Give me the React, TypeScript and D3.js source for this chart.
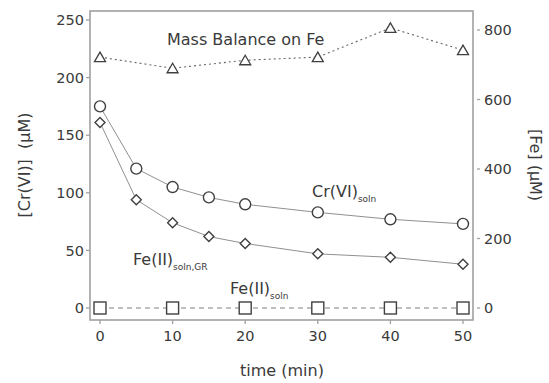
import React from 'react';
import * as d3 from 'd3';

// time points (min)
const crTimes = [0, 5, 10, 15, 20, 30, 40, 50];
const crValues = [175, 121, 105, 96, 90, 83, 77, 73];

const feGrTimes = [0, 5, 10, 15, 20, 30, 40, 50];
const feGrValues = [161, 94, 74, 62, 56, 47, 44, 38];

const feSolnTimes = [0, 10, 20, 30, 40, 50];
const feSolnValues = [0, 0, 0, 0, 0, 0];

const massTimes = [0, 10, 20, 30, 40, 50];
const massValues = [722, 690, 713, 722, 806, 742];

const xTicks = [0, 10, 20, 30, 40, 50];
const leftTicks = [0, 50, 100, 150, 200, 250];
const rightTicks = [0, 200, 400, 600, 800];

const W = 549;
const H = 383;
const frame = { left: 90, right: 473, top: 11, bottom: 320 };
const FONT = '"DejaVu Sans", sans-serif';
const MARK = '#404040';
const LINE = '#909090';
const AXIS = '#a0a0a0';
const TEXT = '#3a3a3a';

const App: React.FC = () => {
  const x = d3.scaleLinear().domain([0, 50]).range([100, 463]);
  const yL = d3.scaleLinear().domain([0, 250]).range([308, 20]);
  const yR = d3.scaleLinear().domain([0, 800]).range([308, 30]);

  const lineL = (ts: number[], vs: number[]) =>
    d3.line<number>().x((_, i) => x(ts[i])).y(d => yL(d))(vs) || '';
  const lineR = (ts: number[], vs: number[]) =>
    d3.line<number>().x((_, i) => x(ts[i])).y(d => yR(d))(vs) || '';

  const sq = 6;
  const dm = 5;
  const tri = 'M0,-5L5.5,4.5L-5.5,4.5Z';

  return (
    <svg width={W} height={H} style={{ position: 'absolute', left: 0, top: 0 }} fontFamily={FONT}>
      <rect x={0} y={0} width={W} height={H} fill="#fff" />
      {/* frame */}
      <rect x={frame.left} y={frame.top} width={frame.right - frame.left} height={frame.bottom - frame.top}
        fill="none" stroke={AXIS} strokeWidth={1.6} />

      {/* left axis */}
      {leftTicks.map(t => (
        <g key={'l' + t}>
          <line x1={frame.left - 4} x2={frame.left} y1={yL(t)} y2={yL(t)} stroke={AXIS} strokeWidth={1.3} />
          <text x={frame.left - 6} y={yL(t)} dy="0.36em" textAnchor="end" fontSize={14.5} fill={TEXT}>{t}</text>
        </g>
      ))}
      {/* right axis */}
      {rightTicks.map(t => (
        <g key={'r' + t}>
          <line x1={frame.right + 4} x2={frame.right + 7} y1={yR(t)} y2={yR(t)} stroke={AXIS} strokeWidth={1.3} />
          <text x={frame.right + 11} y={yR(t)} dy="0.36em" textAnchor="start" fontSize={14.5} fill={TEXT}>{t}</text>
        </g>
      ))}
      {/* bottom axis */}
      {xTicks.map(t => (
        <g key={'x' + t}>
          <line x1={x(t)} x2={x(t)} y1={frame.bottom} y2={frame.bottom + 4} stroke={AXIS} strokeWidth={1.3} />
          <text x={x(t)} y={frame.bottom + 21} textAnchor="middle" fontSize={14.5} fill={TEXT}>{t}</text>
        </g>
      ))}

      {/* axis titles */}
      <text x={282} y={376} textAnchor="middle" fontSize={16} fill={TEXT}>time (min)</text>
      <text transform={`translate(30,165) rotate(-90)`} textAnchor="middle" fontSize={16} fill={TEXT}>
        [Cr(VI)]{'\u00a0\u00a0'}(µM)
      </text>
      <text transform={`translate(530,165) rotate(90)`} textAnchor="middle" fontSize={16} fill={TEXT}>
        [Fe] (µM)
      </text>

      {/* lines */}
      <path d={lineR(massTimes, massValues)} fill="none" stroke="#666" strokeWidth={1.1} strokeDasharray="2,3" />
      <path d={lineL(feSolnTimes, feSolnValues)} fill="none" stroke="#808080" strokeWidth={1.1} strokeDasharray="5,4" />
      <path d={lineL(crTimes, crValues)} fill="none" stroke={LINE} strokeWidth={1} />
      <path d={lineL(feGrTimes, feGrValues)} fill="none" stroke={LINE} strokeWidth={1} />

      {/* markers */}
      {massTimes.map((t, i) => (
        <path key={'m' + i} d={tri} transform={`translate(${x(t)},${yR(massValues[i])})`}
          fill="#fff" stroke={MARK} strokeWidth={1.3} />
      ))}
      {feSolnTimes.map((t, i) => (
        <rect key={'s' + i} x={x(t) - sq} y={yL(feSolnValues[i]) - sq} width={sq * 2} height={sq * 2}
          fill="#fff" stroke={MARK} strokeWidth={1.4} />
      ))}
      {crTimes.map((t, i) => (
        <circle key={'c' + i} cx={x(t)} cy={yL(crValues[i])} r={5.5} fill="#fff" stroke={MARK} strokeWidth={1.4} />
      ))}
      {feGrTimes.map((t, i) => (
        <path key={'d' + i} d={`M0,${-dm}L${dm},0L0,${dm}L${-dm},0Z`}
          transform={`translate(${x(t)},${yL(feGrValues[i])})`} fill="#fff" stroke={MARK} strokeWidth={1.4} />
      ))}

      {/* annotations */}
      <text x={167} y={45} fontSize={16} fill={TEXT}>Mass Balance on Fe</text>
      <text x={312} y={197} fontSize={16} fill={TEXT}>
        Cr(VI)<tspan fontSize={9} dy={5}>soln</tspan>
      </text>
      <text x={133} y={265} fontSize={16} fill={TEXT}>
        Fe(II)<tspan fontSize={9} dy={5}>soln,GR</tspan>
      </text>
      <text x={230} y={294} fontSize={16} fill={TEXT}>
        Fe(II)<tspan fontSize={9} dy={5}>soln</tspan>
      </text>
    </svg>
  );
};

export default App;
